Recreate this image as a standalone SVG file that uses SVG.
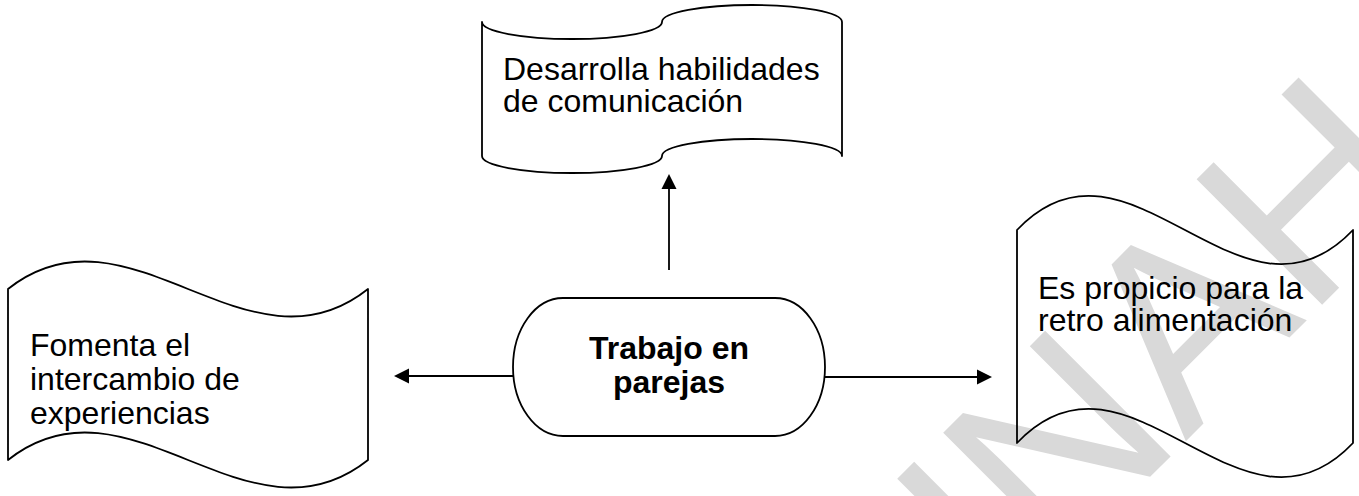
<svg xmlns="http://www.w3.org/2000/svg" width="1359" height="496" viewBox="0 0 1359 496">
<style>
.shape{fill:none;stroke:#000;stroke-width:1.8;stroke-linejoin:round}
.lbl{font-family:"Liberation Sans",Arial,sans-serif;font-size:32px;fill:#000}
.bold{font-weight:bold}
.conn{stroke:#000;stroke-width:1.8;fill:none}
.wm{font-family:"Liberation Sans",Arial,sans-serif;font-size:258px;fill:#d9d9d9}
</style>
<defs>
<marker id="arr" markerUnits="userSpaceOnUse" markerWidth="16" markerHeight="16" viewBox="0 0 16 16" refX="0" refY="8" orient="auto">
<path d="M0,0.5 L15,8 L0,15.5 Z" fill="#000"/>
</marker>
</defs>
<rect width="1359" height="496" fill="#fff"/>
<g id="watermark">
<text class="wm" transform="translate(922,705) rotate(-45)">UNAH</text>
</g>
<g id="node-desarrolla">
<path class="shape" d="M482,22 A90,17 0 0,0 662,22 A90,17 0 0,1 842,22 L842,156 A90,17 0 0,0 662,156 A90,17 0 0,1 482,156 Z"/>
<text class="lbl" x="503" y="80">Desarrolla habilidades</text>
<text class="lbl" x="503" y="112">de comunicación</text>
</g>
<g id="node-fomenta">
<path class="shape" d="M8,289 C128,193.6 248,384.4 368,289 L368,460 C248,555.4 128,364.6 8,460 Z"/>
<text class="lbl" x="30" y="356">Fomenta el</text>
<text class="lbl" x="30" y="390">intercambio de</text>
<text class="lbl" x="30" y="424">experiencias</text>
</g>
<g id="node-trabajo">
<path class="shape" d="M563,298 L775,298 A50,69 0 0,1 775,436 L563,436 A50,69 0 0,1 563,298 Z"/>
<text class="lbl bold" x="669" y="359" text-anchor="middle">Trabajo en</text>
<text class="lbl bold" x="669" y="393" text-anchor="middle">parejas</text>
</g>
<g id="node-propicio">
<path class="shape" d="M1017,230 C1129,111.7 1241,348.3 1353,230 L1353,443 C1241,561.3 1129,324.7 1017,443 Z"/>
<text class="lbl" x="1038" y="299">Es propicio para la</text>
<text class="lbl" x="1038" y="331">retro alimentación</text>
</g>
<g id="connectors">
<line class="conn" x1="669" y1="270" x2="669" y2="189" marker-end="url(#arr)"/>
<line class="conn" x1="513" y1="376" x2="409" y2="376" marker-end="url(#arr)"/>
<line class="conn" x1="825" y1="377" x2="977" y2="377" marker-end="url(#arr)"/>
</g>
</svg>
